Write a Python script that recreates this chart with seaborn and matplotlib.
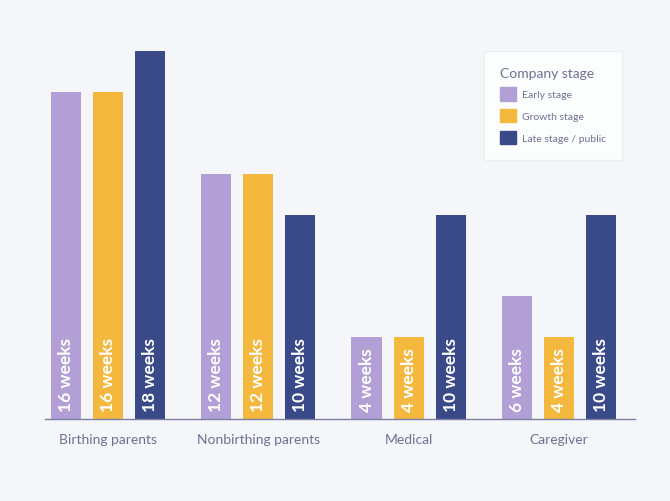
import seaborn as sns
import matplotlib.pyplot as plt
import matplotlib.patches as mpatches
import pandas as pd

# leave data
categories = ['Birthing parents', 'Nonbirthing parents', 'Medical', 'Caregiver']
stages = ['Early stage', 'Growth stage', 'Late stage / public']
early_weeks = [16, 12, 4, 6]
growth_weeks = [16, 12, 4, 4]
late_weeks = [18, 10, 10, 10]

colours = ['#b29fd5', '#f5b83f', '#3a4a89']
bg = '#f5f6f9'
text_col = '#6e7191'

df = pd.DataFrame({
    'category': categories * 3,
    'stage': [stages[0]] * 4 + [stages[1]] * 4 + [stages[2]] * 4,
    'weeks': early_weeks + growth_weeks + late_weeks,
})

sns.set_style('white')
plt.rcParams['font.family'] = ['Lato', 'DejaVu Sans']

fig = plt.figure(figsize=(6.7, 5.02), dpi=100, facecolor=bg)
ax = fig.add_axes([45 / 670, 82 / 502, 590 / 670, 368 / 502])
ax.set_facecolor(bg)

sns.barplot(data=df, x='category', y='weeks', hue='stage', order=categories,
            hue_order=stages, palette=colours, width=0.84, gap=0.2857,
            saturation=1, legend=False, linewidth=0, ax=ax)

ax.set_xlim(-0.419, 3.506)
ax.set_ylim(0, 18)

# white week labels inside each bar, rotated
for cont in ax.containers:
    for bar in cont:
        h = bar.get_height()
        ax.text(bar.get_x() + bar.get_width() / 2, 0.4, f'{int(h)} weeks',
                rotation=90, ha='center', va='bottom', color='white',
                fontsize=12.5, fontweight='bold')

for s in ['top', 'right', 'left']:
    ax.spines[s].set_visible(False)
ax.spines['bottom'].set_color('#7d80a6')
ax.spines['bottom'].set_linewidth(1)
ax.set_yticks([])
ax.set_xlabel('')
ax.set_ylabel('')
ax.tick_params(axis='x', length=0, pad=10, labelsize=10, labelcolor=text_col)

handles = [mpatches.Patch(color=c, label=l) for c, l in zip(colours, stages)]
leg = ax.legend(handles=handles, title='Company stage', loc='upper left',
                bbox_to_anchor=(484 / 670, 1 - 52 / 502),
                bbox_transform=fig.transFigure, frameon=True, fontsize=7.5,
                title_fontsize=10, handlelength=1.55, handleheight=1.55,
                labelspacing=0.85, handletextpad=0.6, borderpad=1.5,
                borderaxespad=0, alignment='left', fancybox=False)
leg.get_frame().set_facecolor('white')
leg.get_frame().set_edgecolor('#ebecf2')
leg.get_title().set_color(text_col)
for t in leg.get_texts():
    t.set_color(text_col)

fig.savefig('out.png', dpi=100, facecolor=bg)
